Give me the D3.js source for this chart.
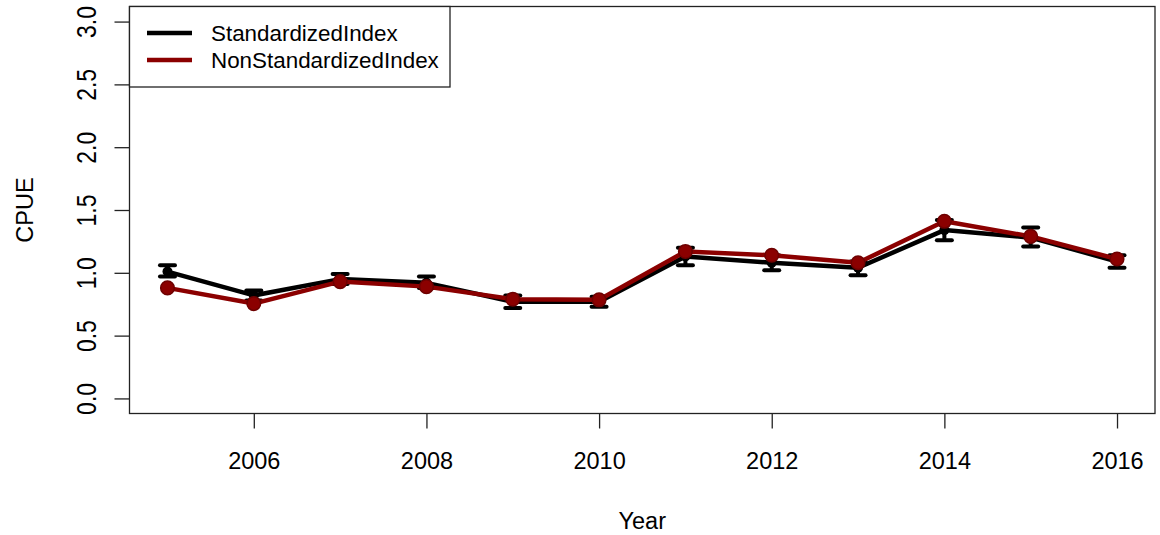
<!DOCTYPE html>
<html><head><meta charset="utf-8">
<script src="https://cdn.jsdelivr.net/npm/d3@7"></script>
<style>body{margin:0;background:#fff}svg{display:block}text{font-family:"Liberation Sans",Arial,sans-serif;fill:#000}</style>
</head><body><svg id="c" width="1160" height="535"></svg>
<script>
const years = [2005,2006,2007,2008,2009,2010,2011,2012,2013,2014,2015,2016];
const standardized = [1.01,0.82,0.95,0.92,0.77,0.77,1.13,1.08,1.04,1.34,1.28,1.09];
const stdLower = [0.97,0.78,0.91,0.88,0.72,0.73,1.06,1.02,0.98,1.26,1.21,1.04];
const stdUpper = [1.06,0.86,0.99,0.97,0.82,0.81,1.20,1.14,1.09,1.42,1.36,1.14];
const nonStandardized = [0.88,0.755,0.93,0.89,0.79,0.785,1.17,1.14,1.08,1.41,1.29,1.11];
const xTicks = [2006,2008,2010,2012,2014,2016];
const yTicks = [0,0.5,1,1.5,2,2.5,3];
const seriesNames = ["StandardizedIndex","NonStandardizedIndex"];
const seriesColors = ["#000000","#8b0000"];

const svg = d3.select("#c");
const L=129.5, R=1155, T=6.5, B=413.5;
const x = d3.scaleLinear().domain([2005-0.44, 2016+0.44]).range([L,R]);
const y = d3.scaleLinear().domain([-0.12, 3.12]).range([B,T]);
const FS = 23.5;

// box
svg.append("rect").attr("x",L).attr("y",T).attr("width",R-L).attr("height",B-T)
  .attr("fill","none").attr("stroke","#222").attr("stroke-width",1.3);

// x axis
const xa = svg.append("g").attr("transform",`translate(0,${B})`)
  .call(d3.axisBottom(x).tickValues(xTicks).tickFormat(d3.format("d")).tickSize(15).tickPadding(23.8));
xa.select(".domain").remove();
xa.selectAll("line").attr("stroke","#222").attr("stroke-width",1.3);
xa.selectAll("text").attr("font-size",FS).style("font-family","Liberation Sans, Arial, sans-serif").attr("fill","#000");

// y axis
const ya = svg.append("g").attr("transform",`translate(${L},0)`)
  .call(d3.axisLeft(y).tickValues(yTicks).tickFormat(d3.format(".1f")).tickSize(15));
ya.select(".domain").remove();
ya.selectAll("line").attr("stroke","#222").attr("stroke-width",1.3);
ya.selectAll("text").attr("font-size",23).style("font-family","Liberation Sans, Arial, sans-serif").attr("fill","#000")
  .attr("x",0).attr("dy",null).attr("text-anchor","middle")
  .attr("transform","translate(-34,0) scale(1.2,1) rotate(-90)");

// axis titles
svg.append("text").attr("x",(L+R)/2).attr("y",529).attr("text-anchor","middle").attr("font-size",FS).text("Year");
svg.append("text").attr("transform",`translate(33,${(T+B)/2}) rotate(-90)`).attr("text-anchor","middle").attr("font-size",FS).text("CPUE");

const line = d3.line().x((d,i)=>x(years[i])).y(d=>y(d));
// standardized
svg.append("path").datum(standardized).attr("d",line).attr("fill","none")
  .attr("stroke",seriesColors[0]).attr("stroke-width",4.5).attr("stroke-linejoin","round");
const eb = svg.append("g").attr("stroke",seriesColors[0]).attr("stroke-width",4);
years.forEach((yr,i)=>{
  eb.append("line").attr("x1",x(yr)).attr("x2",x(yr)).attr("y1",y(stdLower[i])).attr("y2",y(stdUpper[i]));
  [stdLower[i],stdUpper[i]].forEach(v=>{
    eb.append("line").attr("x1",x(yr)-7.5).attr("x2",x(yr)+7.5).attr("y1",y(v)).attr("y2",y(v)).attr("stroke-linecap","round");
  });
});
svg.append("g").selectAll("circle").data(standardized).join("circle")
  .attr("cx",(d,i)=>x(years[i])).attr("cy",d=>y(d)).attr("r",5).attr("fill",seriesColors[0]);

// non standardized
svg.append("path").datum(nonStandardized).attr("d",line).attr("fill","none")
  .attr("stroke",seriesColors[1]).attr("stroke-width",4.5).attr("stroke-linejoin","round");
svg.append("g").selectAll("circle").data(nonStandardized).join("circle")
  .attr("cx",(d,i)=>x(years[i])).attr("cy",d=>y(d)).attr("r",6.8)
  .attr("fill",seriesColors[1]).attr("stroke","#6e0000").attr("stroke-width",1.5);

// legend
const lg = svg.append("g");
lg.append("rect").attr("x",L).attr("y",T).attr("width",450-L).attr("height",87-T)
  .attr("fill","#fff").attr("stroke","#222").attr("stroke-width",1.3);
seriesNames.forEach((n,i)=>{
  const yy = 33 + i*27;
  lg.append("line").attr("x1",147).attr("x2",192).attr("y1",yy).attr("y2",yy)
    .attr("stroke",seriesColors[i]).attr("stroke-width",4.5);
  lg.append("text").attr("x",211).attr("y",yy+8).attr("font-size",22.4).text(n);
});
</script></body></html>
